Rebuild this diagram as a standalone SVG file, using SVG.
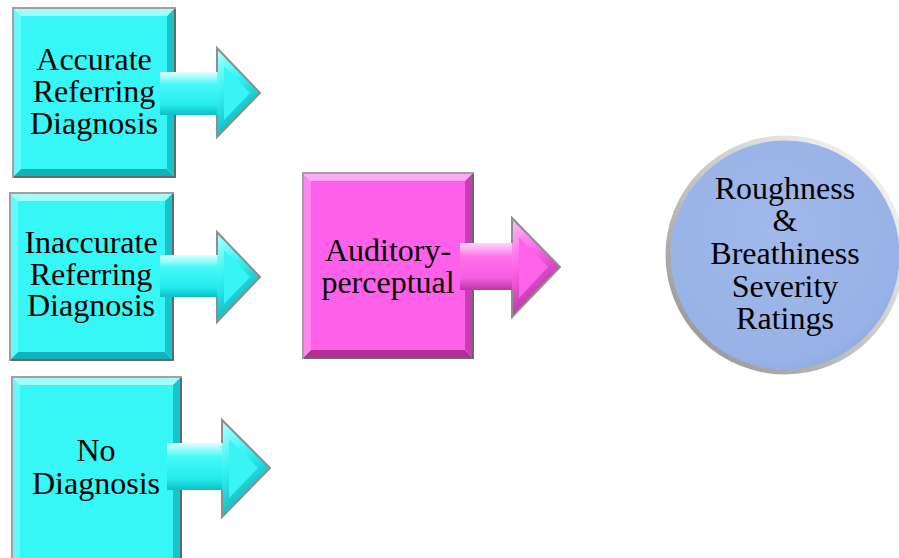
<svg xmlns="http://www.w3.org/2000/svg" width="899" height="558" viewBox="0 0 899 558">
  <defs>
    <linearGradient id="cyanShaft" x1="0" y1="0" x2="0" y2="1">
      <stop offset="0" stop-color="#e0ffff"/>
      <stop offset="0.3" stop-color="#46f8f8"/>
      <stop offset="0.75" stop-color="#26ecee"/>
      <stop offset="1" stop-color="#0cc0c8"/>
    </linearGradient>
    <linearGradient id="cyanHead" x1="0" y1="0" x2="0.4" y2="1">
      <stop offset="0" stop-color="#b8ffff"/>
      <stop offset="0.45" stop-color="#36f4f4"/>
      <stop offset="1" stop-color="#08acb6"/>
    </linearGradient>
    <linearGradient id="pinkShaft" x1="0" y1="0" x2="0" y2="1">
      <stop offset="0" stop-color="#ffd6f9"/>
      <stop offset="0.3" stop-color="#ff70ea"/>
      <stop offset="0.75" stop-color="#f55ce2"/>
      <stop offset="1" stop-color="#bc36a4"/>
    </linearGradient>
    <linearGradient id="pinkHead" x1="0" y1="0" x2="0.4" y2="1">
      <stop offset="0" stop-color="#ffc0f6"/>
      <stop offset="0.45" stop-color="#ff64ea"/>
      <stop offset="1" stop-color="#aa2c94"/>
    </linearGradient>
    <linearGradient id="rim" x1="0" y1="1" x2="1" y2="0">
      <stop offset="0" stop-color="#8c8c8c"/>
      <stop offset="0.5" stop-color="#c8c8c8"/>
      <stop offset="1" stop-color="#ffffff"/>
    </linearGradient>
    <radialGradient id="ball" cx="0.45" cy="0.4" r="0.65">
      <stop offset="0" stop-color="#a0b9eb"/>
      <stop offset="0.85" stop-color="#98b2e7"/>
      <stop offset="1" stop-color="#8ca8de"/>
    </radialGradient>
  </defs>
  <style>
    .frame { fill: #ffffff; stroke: #a0a0a0; stroke-width: 2; }
    .shade { fill: none; stroke: #555555; stroke-width: 1.5; }
    .c-face { fill: #36f6f6; }
    .c-top { fill: #a4fdfd; }
    .c-left { fill: #66f9f9; }
    .c-right { fill: #16c4cc; }
    .c-bottom { fill: #10b2bc; }
    .p-face { fill: #ff60e9; }
    .p-top { fill: #ffaaf4; }
    .p-left { fill: #ff86ef; }
    .p-right { fill: #c83eb2; }
    .p-bottom { fill: #ae3098; }
    .edge { fill: none; stroke: #8e8e8e; stroke-width: 2; stroke-linejoin: miter; }
    .label { font-family: "Liberation Serif", "Times New Roman", serif; font-size: 32px; fill: #000000; text-anchor: middle; }
  </style>

  <!-- Accurate referring diagnosis -->
  <g id="node-accurate">
    <rect class="frame" x="13" y="8" width="162" height="169"/>
    <polygon class="c-top" points="14,9 174,9 167,16 21,16"/>
    <polygon class="c-left" points="14,9 21,16 21,169 14,176"/>
    <polygon class="c-right" points="174,9 174,176 167,169 167,16"/>
    <polygon class="c-bottom" points="14,176 174,176 167,169 21,169"/>
    <rect class="c-face" x="21" y="16" width="146" height="153"/>
    <path class="shade" d="M175,9 V177 H14"/>
    <text class="label" x="94" y="70">Accurate</text>
    <text class="label" x="94" y="102">Referring</text>
    <text class="label" x="94" y="134">Diagnosis</text>
  </g>

  <!-- Inaccurate referring diagnosis -->
  <g id="node-inaccurate">
    <rect class="frame" x="10" y="193" width="163" height="167"/>
    <polygon class="c-top" points="11,194 172,194 165,201 18,201"/>
    <polygon class="c-left" points="11,194 18,201 18,352 11,359"/>
    <polygon class="c-right" points="172,194 172,359 165,352 165,201"/>
    <polygon class="c-bottom" points="11,359 172,359 165,352 18,352"/>
    <rect class="c-face" x="18" y="201" width="147" height="151"/>
    <path class="shade" d="M173,194 V360 H11"/>
    <text class="label" x="91" y="253">Inaccurate</text>
    <text class="label" x="91" y="285">Referring</text>
    <text class="label" x="91" y="316">Diagnosis</text>
  </g>

  <!-- No diagnosis -->
  <g id="node-none">
    <rect class="frame" x="12" y="377" width="169" height="190"/>
    <polygon class="c-top" points="13,378 180,378 173,385 20,385"/>
    <polygon class="c-left" points="13,378 20,385 20,566 13,566"/>
    <polygon class="c-right" points="180,378 180,566 173,566 173,385"/>
    <rect class="c-face" x="20" y="385" width="153" height="181"/>
    <path class="shade" d="M181,378 V566"/>
    <text class="label" x="96" y="461">No</text>
    <text class="label" x="96" y="494">Diagnosis</text>
  </g>

  <!-- Auditory-perceptual -->
  <g id="node-auditory">
    <rect class="frame" x="303" y="173" width="170" height="185"/>
    <polygon class="p-top" points="304,174 472,174 465,181 311,181"/>
    <polygon class="p-left" points="304,174 311,181 311,350 304,357"/>
    <polygon class="p-right" points="472,174 472,357 465,350 465,181"/>
    <polygon class="p-bottom" points="304,357 472,357 465,350 311,350"/>
    <rect class="p-face" x="311" y="181" width="154" height="169"/>
    <path class="shade" d="M473,174 V358 H304"/>
    <text class="label" x="388" y="261">Auditory-</text>
    <text class="label" x="388" y="293">perceptual</text>
  </g>

  <!-- Roughness & breathiness severity ratings -->
  <g id="node-ratings">
    <circle cx="785" cy="255" r="117" fill="url(#ball)" stroke="url(#rim)" stroke-width="5"/>
    <text class="label" x="785" y="199">Roughness</text>
    <text class="label" x="785" y="231">&amp;</text>
    <text class="label" x="785" y="264">Breathiness</text>
    <text class="label" x="785" y="297">Severity</text>
    <text class="label" x="785" y="329">Ratings</text>
  </g>

  <!-- Block arrows -->
  <g id="connectors">
    <g id="arrow-accurate">
      <rect x="160" y="72" width="58" height="43" fill="url(#cyanShaft)"/>
      <polygon points="217,48 260,93 217,137" fill="url(#cyanHead)"/>
      <polygon points="224,66 250,93 224,120" fill="#38f4f4"/>
      <path class="edge" d="M217,72 V48 L260,93 L217,137 V115"/>
    </g>
    <g id="arrow-inaccurate">
      <rect x="160" y="255" width="58" height="42" fill="url(#cyanShaft)"/>
      <polygon points="217,232 260,277 217,322" fill="url(#cyanHead)"/>
      <polygon points="224,250 250,277 224,304" fill="#38f4f4"/>
      <path class="edge" d="M217,255 V232 L260,277 L217,322 V297"/>
    </g>
    <g id="arrow-none">
      <rect x="167" y="443" width="56" height="47" fill="url(#cyanShaft)"/>
      <polygon points="222,420 270,468 222,517" fill="url(#cyanHead)"/>
      <polygon points="229,439 258,468 229,498" fill="#38f4f4"/>
      <path class="edge" d="M222,443 V420 L270,468 L222,517 V490"/>
    </g>
    <g id="arrow-auditory">
      <rect x="460" y="243" width="53" height="47" fill="url(#pinkShaft)"/>
      <polygon points="512,218 560,267 512,317" fill="url(#pinkHead)"/>
      <polygon points="519,237 548,267 519,298" fill="#ff62ea"/>
      <path class="edge" d="M512,243 V218 L560,267 L512,317 V290"/>
    </g>
  </g>
</svg>
